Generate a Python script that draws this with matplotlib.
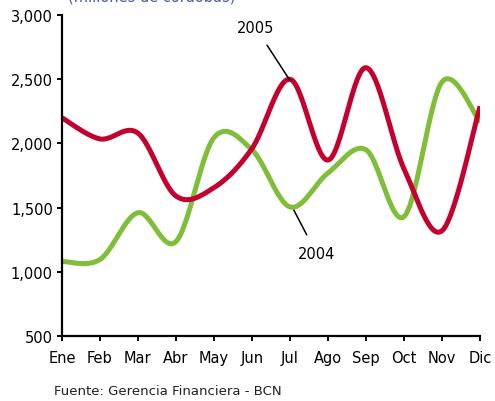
import numpy as np
import matplotlib.pyplot as plt

months = ["Ene", "Feb", "Mar", "Abr", "May", "Jun",
          "Jul", "Ago", "Sep", "Oct", "Nov", "Dic"]
y2005 = [2200, 2035, 2080, 1590, 1655, 1960, 2500, 1870, 2590, 1800, 1320, 2290]
y2004 = [1080, 1095, 1460, 1235, 2045, 1950, 1505, 1770, 1950, 1430, 2480, 2165]
yticks = [500, 1000, 1500, 2000, 2500, 3000]

RED = "#C4002F"
GREEN = "#80BE3A"


def smooth(xs, ys, n=30):
    # Excel-style smoothed line: cubic Bezier segments with Catmull-Rom handles
    p = np.column_stack([xs, ys]).astype(float)
    p = np.vstack([p[0], p, p[-1]])
    t = np.linspace(0, 1, n)[:, None]
    out = []
    for i in range(1, len(p) - 2):
        p0, p1, p2, p3 = p[i - 1], p[i], p[i + 1], p[i + 2]
        c1 = p1 + (p2 - p0) / 6
        c2 = p2 - (p3 - p1) / 6
        seg = ((1 - t) ** 3 * p1 + 3 * (1 - t) ** 2 * t * c1
               + 3 * (1 - t) * t ** 2 * c2 + t ** 3 * p2)
        out.append(seg if i == 1 else seg[1:])
    out = np.vstack(out)
    return out[:, 0], out[:, 1]


fig = plt.figure(figsize=(4.95, 4.02), dpi=100)
ax = fig.add_axes([0.125, 0.162, 0.845, 0.798])

x = np.arange(len(months))
sx, sy = smooth(x, y2004)
ax.plot(sx, sy, color=GREEN, lw=3.6, solid_capstyle="butt")
sx, sy = smooth(x, y2005)
ax.plot(sx, sy, color=RED, lw=3.6, solid_capstyle="butt")

ax.set_xlim(0, 11)
ax.set_ylim(500, 3000)
ax.set_xticks(x)
ax.set_xticklabels(months)
ax.set_yticks(yticks)
ax.set_yticklabels([f"{v:,}" for v in yticks])
ax.tick_params(direction="out", length=3.5, width=1.4, labelsize=10.5,
               colors="black")
ax.tick_params(axis="x", pad=7)
ax.tick_params(axis="y", pad=3)
for s in ["top", "right"]:
    ax.spines[s].set_visible(False)
for s in ["left", "bottom"]:
    ax.spines[s].set_linewidth(1.6)

# series labels with leader lines
ax.annotate("2005", xy=(6.0, 2490), xytext=(5.1, 2900),
            fontsize=10.5, ha="center", va="center",
            arrowprops=dict(arrowstyle="-", color="black", lw=1.1,
                            shrinkA=6, shrinkB=0))
ax.annotate("2004", xy=(6.1, 1480), xytext=(6.7, 1140),
            fontsize=10.5, ha="center", va="center",
            arrowprops=dict(arrowstyle="-", color="black", lw=1.1,
                            shrinkA=7, shrinkB=0))

fig.text(0.307, 0.997, "(millones de córdobas)", color="#4A5AAE",
         fontsize=10.5, ha="center", va="baseline")
fig.text(0.11, 0.025, "Fuente: Gerencia Financiera - BCN", fontsize=9.5,
         ha="left", va="center", color="#222222")

fig.savefig("out.png", dpi=100)
